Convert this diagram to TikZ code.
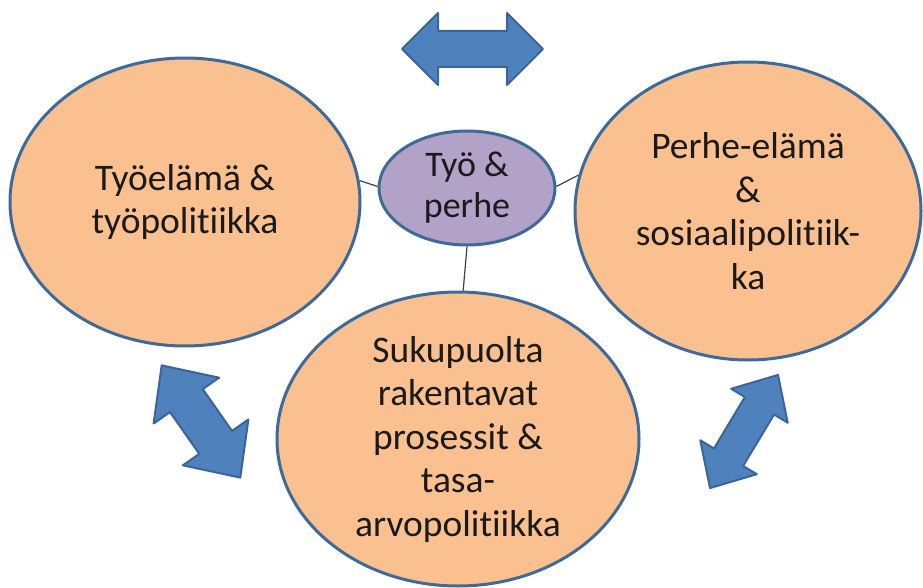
\documentclass[tikz,border=0pt]{standalone}
\usepackage{fontspec}
\setmainfont{Carlito}[RawFeature={-liga;-clig;-calt;-dlig;-rlig}]
\usetikzlibrary{shapes.geometric}
\definecolor{orangefill}{HTML}{FAC090}
\definecolor{purplefill}{HTML}{B3A2C7}
\definecolor{blueline}{HTML}{3D6A99}
\definecolor{arrowfill}{HTML}{4F81BD}
\definecolor{arrowline}{HTML}{3A649A}
\definecolor{textcol}{HTML}{1A1A1A}
\newcommand\mydblarrow[7]{%
  \draw[bigarrow, shift={(#1,#2)}, rotate=#3]
    (-#4,0) -- (-#4+#5,-#6) -- (-#4+#5,-#7) -- (#4-#5,-#7) -- (#4-#5,-#6) -- (#4,0)
    -- (#4-#5,#6) -- (#4-#5,#7) -- (-#4+#5,#7) -- (-#4+#5,#6) -- cycle;}
\tikzset{
  bubble/.style={ellipse, draw=blueline, line width=3pt, fill=orangefill, inner sep=0pt,
    align=center, text=textcol, font=\fontsize{37.5}{43.5}\selectfont},
  hub/.style={ellipse, draw=blueline, line width=3pt, fill=purplefill, inner sep=0pt,
    align=center, text=textcol, font=\fontsize{36}{41}\selectfont},
  link/.style={draw=black!75, line width=1.2pt},
  bigarrow/.style={fill=arrowfill, draw=arrowline, line width=2pt, line join=round}
}
\begin{document}
\begin{tikzpicture}[x=1pt, y=-1pt]
\useasboundingbox (0,0) rectangle (923,588);
\node[bubble, minimum width=350pt, minimum height=288pt] (l) at (185,202) {Työelämä \&\\työpolitiikka};
\node[bubble, minimum width=346pt, minimum height=298pt] (r) at (748,211) {Perhe-elämä\\\&\\sosiaalipolitiik-\\ka};
\node[bubble, minimum width=362pt, minimum height=294pt] (b) at (458,439) {Sukupuolta\\rakentavat\\prosessit \&\\tasa-\\arvopolitiikka};
\node[hub, minimum width=176pt, minimum height=114pt] (c) at (467,188) {Työ \&\\perhe};
\draw[link] (c.179) -- (l.7);
\draw[link] (c.1) -- (r.168);
\draw[link] (c.270) -- (b.88);
\mydblarrow{472.5}{49}{0}{70.5}{36}{36}{18}
\mydblarrow{201}{421.5}{-55}{68.5}{43}{40}{20}
\mydblarrow{744}{431.5}{59}{66}{36}{33}{17}
\end{tikzpicture}
\end{document}
